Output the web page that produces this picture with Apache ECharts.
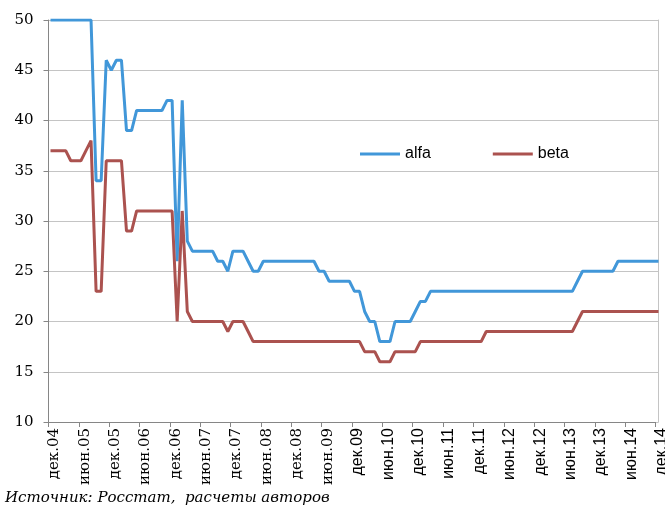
<!DOCTYPE html>
<html>
<head>
<meta charset="utf-8">
<style>
  html, body { margin: 0; padding: 0; background: #fff; }
  #chart { width: 665px; height: 508px; }
</style>
<script src="https://cdn.jsdelivr.net/npm/echarts@6/dist/echarts.min.js"></script>
</head>
<body>
<div id="chart"></div>
<script>
// Monthly series, Dec 2004 .. Dec 2014 (121 points)
const alfa = [
  50, 50, 50, 50, 50, 50, 50, 50, 50, 34, 34, 46, 45, 46, 46, 39, 39, 41, 41, 41,
  41, 41, 41, 42, 42, 26, 42, 28, 27, 27, 27, 27, 27, 26, 26, 25, 27, 27, 27, 26,
  25, 25, 26, 26, 26, 26, 26, 26, 26, 26, 26, 26, 26, 25, 25, 24, 24, 24, 24, 24,
  23, 23, 21, 20, 20, 18, 18, 18, 20, 20, 20, 20, 21, 22, 22, 23, 23, 23, 23, 23,
  23, 23, 23, 23, 23, 23, 23, 23, 23, 23, 23, 23, 23, 23, 23, 23, 23, 23, 23, 23,
  23, 23, 23, 23, 24, 25, 25, 25, 25, 25, 25, 25, 26, 26, 26, 26, 26, 26, 26, 26,
  26
];
const beta = [
  37, 37, 37, 37, 36, 36, 36, 37, 38, 23, 23, 36, 36, 36, 36, 29, 29, 31, 31, 31,
  31, 31, 31, 31, 31, 20, 31, 21, 20, 20, 20, 20, 20, 20, 20, 19, 20, 20, 20, 19,
  18, 18, 18, 18, 18, 18, 18, 18, 18, 18, 18, 18, 18, 18, 18, 18, 18, 18, 18, 18,
  18, 18, 17, 17, 17, 16, 16, 16, 17, 17, 17, 17, 17, 18, 18, 18, 18, 18, 18, 18,
  18, 18, 18, 18, 18, 18, 19, 19, 19, 19, 19, 19, 19, 19, 19, 19, 19, 19, 19, 19,
  19, 19, 19, 19, 20, 21, 21, 21, 21, 21, 21, 21, 21, 21, 21, 21, 21, 21, 21, 21,
  21
];

// Half-year tick labels shown on the time axis
const tickLabels = [
  'дек.04', 'июн.05', 'дек.05', 'июн.06', 'дек.06', 'июн.07', 'дек.07',
  'июн.08', 'дек.08', 'июн.09', 'дек.09', 'июн.10', 'дек.10', 'июн.11',
  'дек.11', 'июн.12', 'дек.12', 'июн.13', 'дек.13', 'июн.14', 'дек.14'
];
// labels up to this one are set in the serif face, later ones in sans
const lastSerifLabel = 'июн.09';
const monthNames = ['янв', 'фев', 'мар', 'апр', 'май', 'июн',
                    'июл', 'авг', 'сен', 'окт', 'ноя', 'дек'];
const yTicks = { min: 10, max: 50, step: 5 };

// month categories: дек.04, янв.05, ... дек.14
const categories = [];
for (let i = 0; i < alfa.length; i++) {
  const mi = (11 + i) % 12;
  const yr = 4 + Math.floor((11 + i) / 12);
  categories.push(monthNames[mi] + '.' + String(yr).padStart(2, '0'));
}
const serifLimit = tickLabels.indexOf(lastSerifLabel);

const chart = echarts.init(document.getElementById('chart'), null, { renderer: 'canvas' });

const gridBase = { top: 20, bottom: 86, containLabel: false, outerBoundsMode: 'none' };
const gridLineStyle = { color: '#c4c4c4', width: 1 };

chart.setOption({
  animation: false,
  backgroundColor: '#ffffff',
  grid: [
    // axes, ticks and gridlines
    Object.assign({ left: 48.5, right: 9.5 }, gridBase),
    // plotted lines sit slightly to the right of the tick marks
    Object.assign({ left: 50.5, right: 6.5 }, gridBase)
  ],
  legend: {
    left: 355, top: 141,
    itemWidth: 40, itemHeight: 3, itemGap: 62,
    icon: 'rect',
    textStyle: { fontFamily: 'Liberation Sans', fontSize: 16, color: '#000' },
    data: ['alfa', 'beta']
  },
  xAxis: [
    {
      gridIndex: 0,
      type: 'category',
      boundaryGap: false,
      data: categories,
      axisLine: { lineStyle: { color: '#868686', width: 1 } },
      axisTick: { show: true, interval: 5, length: 5, lineStyle: { color: '#868686' } },
      axisLabel: {
        interval: 5,
        rotate: 90,
        margin: 6,
        padding: [12, 0, 0, 0],
        color: '#000',
        fontFamily: 'Liberation Sans', fontSize: 16,
        formatter: function (v) {
          const k = tickLabels.indexOf(v);
          if (k < 0) return '';
          return k <= serifLimit ? '{s|' + v + '}' : '{n|' + v + '}';
        },
        rich: {
          s: { fontFamily: 'DejaVu Serif', fontSize: 15, color: '#000' },
          n: { fontFamily: 'Liberation Sans', fontSize: 16, color: '#000' }
        }
      },
      splitLine: { show: false }
    },
    {
      gridIndex: 1,
      type: 'category',
      boundaryGap: false,
      data: categories,
      show: false
    }
  ],
  yAxis: [
    {
      gridIndex: 0,
      type: 'value',
      min: yTicks.min, max: yTicks.max, interval: yTicks.step,
      axisLine: { show: true, lineStyle: { color: '#868686', width: 1 } },
      axisTick: { show: true, length: 5, lineStyle: { color: '#868686' } },
      axisLabel: {
        margin: 15,
        fontFamily: 'DejaVu Serif', fontSize: 15, color: '#000'
      },
      splitLine: { lineStyle: gridLineStyle }
    },
    {
      // right-hand frame line of the plot area; its gridlines run up to the frame
      gridIndex: 1,
      type: 'value',
      position: 'right',
      min: yTicks.min, max: yTicks.max, interval: yTicks.step,
      axisLine: { show: true, lineStyle: { color: '#c4c4c4', width: 1 } },
      axisTick: { show: false },
      axisLabel: { show: false },
      splitLine: { show: true, lineStyle: gridLineStyle }
    }
  ],
  series: [
    {
      name: 'alfa', type: 'line', data: alfa,
      xAxisIndex: 1, yAxisIndex: 1,
      showSymbol: false, symbol: 'none',
      lineStyle: { color: '#4197d9', width: 3 },
      itemStyle: { color: '#4197d9' }
    },
    {
      name: 'beta', type: 'line', data: beta,
      xAxisIndex: 1, yAxisIndex: 1,
      showSymbol: false, symbol: 'none',
      lineStyle: { color: '#ab524f', width: 3 },
      itemStyle: { color: '#ab524f' }
    }
  ],
  graphic: [{
    type: 'text',
    left: 5, top: 491,
    style: {
      text: 'Источник: Росстат,  расчеты авторов',
      fontFamily: 'DejaVu Serif', fontStyle: 'italic', fontSize: 15, fill: '#000'
    }
  }]
});
</script>
</body>
</html>
